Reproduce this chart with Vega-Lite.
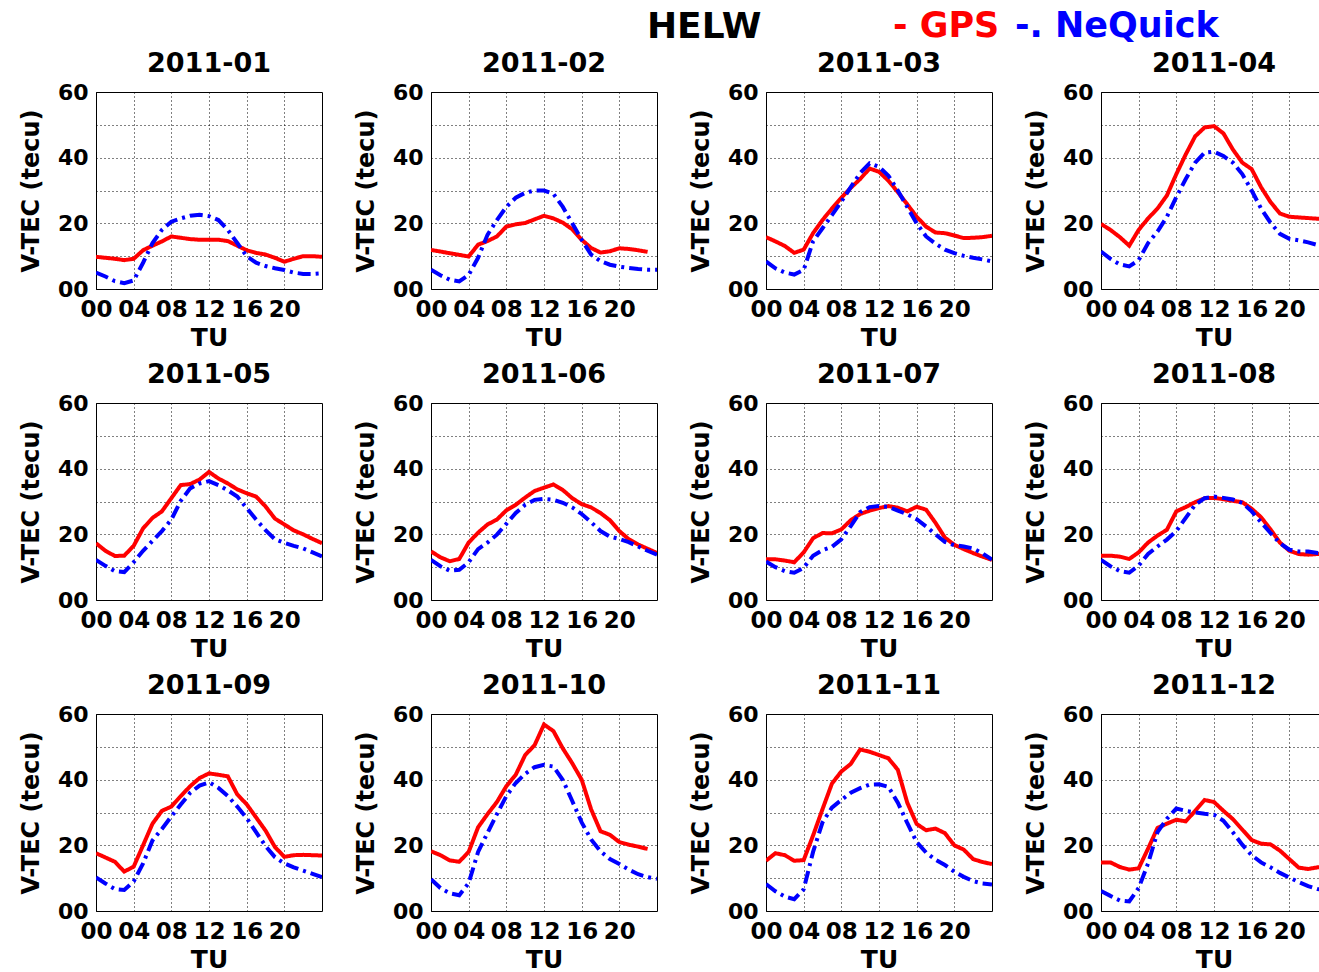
{
"$schema": "https://vega.github.io/schema/vega-lite/v6.json",
"background": "white",
"padding": {"left": 18, "top": 8, "right": 0, "bottom": 0},
"title": {"text": "HELW", "fontSize": 36, "font": "DejaVu Sans", "fontWeight": "bold", "color": "black", "anchor": "middle", "dx": 31, "dy": 42, "offset": 4},
"data": {"values": [
{"m":"2011-01","h":0,"GPS":9.8,"NeQuick":5},{"m":"2011-01","h":1,"GPS":9.5,"NeQuick":3.8},{"m":"2011-01","h":2,"GPS":9.2,"NeQuick":2.4},{"m":"2011-01","h":3,"GPS":8.8,"NeQuick":1.8},{"m":"2011-01","h":4,"GPS":9.2,"NeQuick":2.6},{"m":"2011-01","h":5,"GPS":11.8,"NeQuick":8},{"m":"2011-01","h":6,"GPS":13.2,"NeQuick":14},{"m":"2011-01","h":7,"GPS":14.5,"NeQuick":18},{"m":"2011-01","h":8,"GPS":16,"NeQuick":20.5},{"m":"2011-01","h":9,"GPS":15.6,"NeQuick":21.5},{"m":"2011-01","h":10,"GPS":15.2,"NeQuick":22.3},{"m":"2011-01","h":11,"GPS":15,"NeQuick":22.6},{"m":"2011-01","h":12,"GPS":15,"NeQuick":22.2},{"m":"2011-01","h":13,"GPS":15,"NeQuick":21},{"m":"2011-01","h":14,"GPS":14.6,"NeQuick":18},{"m":"2011-01","h":15,"GPS":13.2,"NeQuick":14},{"m":"2011-01","h":16,"GPS":11.8,"NeQuick":10},{"m":"2011-01","h":17,"GPS":11,"NeQuick":8},{"m":"2011-01","h":18,"GPS":10.5,"NeQuick":7},{"m":"2011-01","h":19,"GPS":9.5,"NeQuick":6.3},{"m":"2011-01","h":20,"GPS":8.3,"NeQuick":5.8},{"m":"2011-01","h":21,"GPS":9.2,"NeQuick":5},{"m":"2011-01","h":22,"GPS":10,"NeQuick":4.6},{"m":"2011-01","h":23,"GPS":10,"NeQuick":4.6},{"m":"2011-01","h":24,"GPS":9.8,"NeQuick":4.8},
{"m":"2011-02","h":0,"GPS":11.9,"NeQuick":5.9},{"m":"2011-02","h":1,"GPS":11.4,"NeQuick":4.2},{"m":"2011-02","h":2,"GPS":10.9,"NeQuick":2.8},{"m":"2011-02","h":3,"GPS":10.4,"NeQuick":2.3},{"m":"2011-02","h":4,"GPS":9.9,"NeQuick":4.3},{"m":"2011-02","h":5,"GPS":13.5,"NeQuick":9.5},{"m":"2011-02","h":6,"GPS":14.6,"NeQuick":16.5},{"m":"2011-02","h":7,"GPS":16,"NeQuick":21},{"m":"2011-02","h":8,"GPS":19,"NeQuick":25},{"m":"2011-02","h":9,"GPS":19.7,"NeQuick":27.8},{"m":"2011-02","h":10,"GPS":20.1,"NeQuick":29.3},{"m":"2011-02","h":11,"GPS":21.2,"NeQuick":30},{"m":"2011-02","h":12,"GPS":22.3,"NeQuick":30},{"m":"2011-02","h":13,"GPS":21.5,"NeQuick":29},{"m":"2011-02","h":14,"GPS":20.2,"NeQuick":25},{"m":"2011-02","h":15,"GPS":18.2,"NeQuick":20},{"m":"2011-02","h":16,"GPS":15,"NeQuick":15},{"m":"2011-02","h":17,"GPS":12.5,"NeQuick":10.5},{"m":"2011-02","h":18,"GPS":11.1,"NeQuick":8.5},{"m":"2011-02","h":19,"GPS":11.5,"NeQuick":7.4},{"m":"2011-02","h":20,"GPS":12.4,"NeQuick":6.8},{"m":"2011-02","h":21,"GPS":12.2,"NeQuick":6.4},{"m":"2011-02","h":22,"GPS":11.8,"NeQuick":6.1},{"m":"2011-02","h":23,"GPS":11.3,"NeQuick":5.9},{"m":"2011-02","h":24,"GPS":null,"NeQuick":5.9},
{"m":"2011-03","h":0,"GPS":15.8,"NeQuick":8.4},{"m":"2011-03","h":1,"GPS":14.5,"NeQuick":6.3},{"m":"2011-03","h":2,"GPS":13.1,"NeQuick":5},{"m":"2011-03","h":3,"GPS":11,"NeQuick":4.4},{"m":"2011-03","h":4,"GPS":12,"NeQuick":5.8},{"m":"2011-03","h":5,"GPS":17,"NeQuick":14.5},{"m":"2011-03","h":6,"GPS":21,"NeQuick":18.5},{"m":"2011-03","h":7,"GPS":24.5,"NeQuick":22.5},{"m":"2011-03","h":8,"GPS":27.8,"NeQuick":26.6},{"m":"2011-03","h":9,"GPS":30.8,"NeQuick":31},{"m":"2011-03","h":10,"GPS":33.5,"NeQuick":35.3},{"m":"2011-03","h":11,"GPS":36.7,"NeQuick":38.3},{"m":"2011-03","h":12,"GPS":35.7,"NeQuick":37.2},{"m":"2011-03","h":13,"GPS":33,"NeQuick":34.5},{"m":"2011-03","h":14,"GPS":29.5,"NeQuick":30},{"m":"2011-03","h":15,"GPS":25.8,"NeQuick":25},{"m":"2011-03","h":16,"GPS":22,"NeQuick":20},{"m":"2011-03","h":17,"GPS":19,"NeQuick":16},{"m":"2011-03","h":18,"GPS":17.2,"NeQuick":13.8},{"m":"2011-03","h":19,"GPS":17,"NeQuick":12},{"m":"2011-03","h":20,"GPS":16.3,"NeQuick":10.9},{"m":"2011-03","h":21,"GPS":15.5,"NeQuick":10.1},{"m":"2011-03","h":22,"GPS":15.6,"NeQuick":9.5},{"m":"2011-03","h":23,"GPS":15.8,"NeQuick":9},{"m":"2011-03","h":24,"GPS":16.2,"NeQuick":8.4},
{"m":"2011-04","h":0,"GPS":19.8,"NeQuick":11.4},{"m":"2011-04","h":1,"GPS":18,"NeQuick":9.2},{"m":"2011-04","h":2,"GPS":15.8,"NeQuick":7.5},{"m":"2011-04","h":3,"GPS":13.2,"NeQuick":6.9},{"m":"2011-04","h":4,"GPS":18,"NeQuick":8.8},{"m":"2011-04","h":5,"GPS":21.5,"NeQuick":14},{"m":"2011-04","h":6,"GPS":24.5,"NeQuick":17.5},{"m":"2011-04","h":7,"GPS":28.5,"NeQuick":22},{"m":"2011-04","h":8,"GPS":35,"NeQuick":28},{"m":"2011-04","h":9,"GPS":41,"NeQuick":33.5},{"m":"2011-04","h":10,"GPS":46.5,"NeQuick":38.5},{"m":"2011-04","h":11,"GPS":49.2,"NeQuick":41.5},{"m":"2011-04","h":12,"GPS":49.6,"NeQuick":41.8},{"m":"2011-04","h":13,"GPS":47.4,"NeQuick":40.5},{"m":"2011-04","h":14,"GPS":42.5,"NeQuick":38.5},{"m":"2011-04","h":15,"GPS":38.5,"NeQuick":35},{"m":"2011-04","h":16,"GPS":36.5,"NeQuick":30},{"m":"2011-04","h":17,"GPS":31,"NeQuick":24.5},{"m":"2011-04","h":18,"GPS":26.5,"NeQuick":20.2},{"m":"2011-04","h":19,"GPS":23,"NeQuick":16.8},{"m":"2011-04","h":20,"GPS":22,"NeQuick":15.3},{"m":"2011-04","h":21,"GPS":21.8,"NeQuick":14.8},{"m":"2011-04","h":22,"GPS":21.6,"NeQuick":14.2},{"m":"2011-04","h":23,"GPS":21.4,"NeQuick":13.4},{"m":"2011-04","h":24,"GPS":21.3,"NeQuick":12.8},
{"m":"2011-05","h":0,"GPS":17.3,"NeQuick":12.2},{"m":"2011-05","h":1,"GPS":15,"NeQuick":10.4},{"m":"2011-05","h":2,"GPS":13.4,"NeQuick":8.8},{"m":"2011-05","h":3,"GPS":13.5,"NeQuick":8.5},{"m":"2011-05","h":4,"GPS":16.5,"NeQuick":11.5},{"m":"2011-05","h":5,"GPS":21.8,"NeQuick":15},{"m":"2011-05","h":6,"GPS":25,"NeQuick":18},{"m":"2011-05","h":7,"GPS":27,"NeQuick":21},{"m":"2011-05","h":8,"GPS":31,"NeQuick":24.5},{"m":"2011-05","h":9,"GPS":35,"NeQuick":30.2},{"m":"2011-05","h":10,"GPS":35.3,"NeQuick":34},{"m":"2011-05","h":11,"GPS":36.7,"NeQuick":35.5},{"m":"2011-05","h":12,"GPS":39,"NeQuick":36.2},{"m":"2011-05","h":13,"GPS":37,"NeQuick":35},{"m":"2011-05","h":14,"GPS":35.5,"NeQuick":33.4},{"m":"2011-05","h":15,"GPS":33.7,"NeQuick":31.5},{"m":"2011-05","h":16,"GPS":32.5,"NeQuick":28},{"m":"2011-05","h":17,"GPS":31.5,"NeQuick":24.5},{"m":"2011-05","h":18,"GPS":28.5,"NeQuick":21.3},{"m":"2011-05","h":19,"GPS":24.8,"NeQuick":18.5},{"m":"2011-05","h":20,"GPS":23,"NeQuick":17.4},{"m":"2011-05","h":21,"GPS":21.2,"NeQuick":16.5},{"m":"2011-05","h":22,"GPS":20,"NeQuick":15.7},{"m":"2011-05","h":23,"GPS":18.6,"NeQuick":14.5},{"m":"2011-05","h":24,"GPS":17.3,"NeQuick":13.3},
{"m":"2011-06","h":0,"GPS":14.8,"NeQuick":12.2},{"m":"2011-06","h":1,"GPS":13,"NeQuick":10.3},{"m":"2011-06","h":2,"GPS":11.8,"NeQuick":8.9},{"m":"2011-06","h":3,"GPS":12.5,"NeQuick":9.2},{"m":"2011-06","h":4,"GPS":17.5,"NeQuick":11.5},{"m":"2011-06","h":5,"GPS":20.5,"NeQuick":15.5},{"m":"2011-06","h":6,"GPS":23,"NeQuick":17.5},{"m":"2011-06","h":7,"GPS":24.5,"NeQuick":19.9},{"m":"2011-06","h":8,"GPS":27.3,"NeQuick":23.2},{"m":"2011-06","h":9,"GPS":29,"NeQuick":26.5},{"m":"2011-06","h":10,"GPS":31.2,"NeQuick":29},{"m":"2011-06","h":11,"GPS":33.2,"NeQuick":30.5},{"m":"2011-06","h":12,"GPS":34.2,"NeQuick":30.8},{"m":"2011-06","h":13,"GPS":35.2,"NeQuick":30.5},{"m":"2011-06","h":14,"GPS":33.5,"NeQuick":29.6},{"m":"2011-06","h":15,"GPS":31,"NeQuick":28.2},{"m":"2011-06","h":16,"GPS":29.2,"NeQuick":26.2},{"m":"2011-06","h":17,"GPS":28.2,"NeQuick":23.7},{"m":"2011-06","h":18,"GPS":26.5,"NeQuick":21},{"m":"2011-06","h":19,"GPS":24.3,"NeQuick":19.3},{"m":"2011-06","h":20,"GPS":21,"NeQuick":18.6},{"m":"2011-06","h":21,"GPS":18.5,"NeQuick":17.6},{"m":"2011-06","h":22,"GPS":16.9,"NeQuick":16.3},{"m":"2011-06","h":23,"GPS":15.6,"NeQuick":15},{"m":"2011-06","h":24,"GPS":14.3,"NeQuick":13.8},
{"m":"2011-07","h":0,"GPS":12.4,"NeQuick":11.7},{"m":"2011-07","h":1,"GPS":12.4,"NeQuick":10},{"m":"2011-07","h":2,"GPS":12,"NeQuick":8.8},{"m":"2011-07","h":3,"GPS":11.5,"NeQuick":8.3},{"m":"2011-07","h":4,"GPS":14.5,"NeQuick":9.8},{"m":"2011-07","h":5,"GPS":18.8,"NeQuick":13.5},{"m":"2011-07","h":6,"GPS":20.4,"NeQuick":15.2},{"m":"2011-07","h":7,"GPS":20.3,"NeQuick":16.2},{"m":"2011-07","h":8,"GPS":21.5,"NeQuick":18.5},{"m":"2011-07","h":9,"GPS":24.3,"NeQuick":22.5},{"m":"2011-07","h":10,"GPS":26.2,"NeQuick":26.8},{"m":"2011-07","h":11,"GPS":27.2,"NeQuick":28.3},{"m":"2011-07","h":12,"GPS":28,"NeQuick":28.6},{"m":"2011-07","h":13,"GPS":28.6,"NeQuick":28.4},{"m":"2011-07","h":14,"GPS":28.1,"NeQuick":27.2},{"m":"2011-07","h":15,"GPS":27,"NeQuick":26.1},{"m":"2011-07","h":16,"GPS":28.4,"NeQuick":24.6},{"m":"2011-07","h":17,"GPS":27.5,"NeQuick":22.4},{"m":"2011-07","h":18,"GPS":23.5,"NeQuick":20},{"m":"2011-07","h":19,"GPS":19,"NeQuick":17.7},{"m":"2011-07","h":20,"GPS":16.8,"NeQuick":16.7},{"m":"2011-07","h":21,"GPS":15.5,"NeQuick":16.3},{"m":"2011-07","h":22,"GPS":14.3,"NeQuick":15.7},{"m":"2011-07","h":23,"GPS":13.2,"NeQuick":14.2},{"m":"2011-07","h":24,"GPS":12.2,"NeQuick":12.3},
{"m":"2011-08","h":0,"GPS":13.5,"NeQuick":12.2},{"m":"2011-08","h":1,"GPS":13.5,"NeQuick":10.3},{"m":"2011-08","h":2,"GPS":13.2,"NeQuick":8.8},{"m":"2011-08","h":3,"GPS":12.5,"NeQuick":8.3},{"m":"2011-08","h":4,"GPS":14.5,"NeQuick":10.5},{"m":"2011-08","h":5,"GPS":17.5,"NeQuick":14},{"m":"2011-08","h":6,"GPS":19.6,"NeQuick":16.3},{"m":"2011-08","h":7,"GPS":21.4,"NeQuick":18.4},{"m":"2011-08","h":8,"GPS":27,"NeQuick":21},{"m":"2011-08","h":9,"GPS":28.3,"NeQuick":25},{"m":"2011-08","h":10,"GPS":29.8,"NeQuick":29},{"m":"2011-08","h":11,"GPS":31,"NeQuick":31},{"m":"2011-08","h":12,"GPS":31.1,"NeQuick":31.5},{"m":"2011-08","h":13,"GPS":30.7,"NeQuick":31.1},{"m":"2011-08","h":14,"GPS":30.2,"NeQuick":30.6},{"m":"2011-08","h":15,"GPS":29.8,"NeQuick":29.6},{"m":"2011-08","h":16,"GPS":27.8,"NeQuick":27},{"m":"2011-08","h":17,"GPS":25.2,"NeQuick":23.7},{"m":"2011-08","h":18,"GPS":21.5,"NeQuick":20.4},{"m":"2011-08","h":19,"GPS":17.5,"NeQuick":17.3},{"m":"2011-08","h":20,"GPS":15,"NeQuick":15.3},{"m":"2011-08","h":21,"GPS":14,"NeQuick":14.8},{"m":"2011-08","h":22,"GPS":13.8,"NeQuick":14.8},{"m":"2011-08","h":23,"GPS":14,"NeQuick":14.3},{"m":"2011-08","h":24,"GPS":14,"NeQuick":14},
{"m":"2011-09","h":0,"GPS":17.6,"NeQuick":10.2},{"m":"2011-09","h":1,"GPS":16.3,"NeQuick":8.4},{"m":"2011-09","h":2,"GPS":15,"NeQuick":6.7},{"m":"2011-09","h":3,"GPS":12,"NeQuick":6.4},{"m":"2011-09","h":4,"GPS":13.5,"NeQuick":9},{"m":"2011-09","h":5,"GPS":20,"NeQuick":14.5},{"m":"2011-09","h":6,"GPS":26.6,"NeQuick":21.5},{"m":"2011-09","h":7,"GPS":30.5,"NeQuick":25},{"m":"2011-09","h":8,"GPS":31.8,"NeQuick":28.8},{"m":"2011-09","h":9,"GPS":35,"NeQuick":32.4},{"m":"2011-09","h":10,"GPS":38,"NeQuick":36},{"m":"2011-09","h":11,"GPS":40.5,"NeQuick":38.2},{"m":"2011-09","h":12,"GPS":41.9,"NeQuick":39.2},{"m":"2011-09","h":13,"GPS":41.5,"NeQuick":37.5},{"m":"2011-09","h":14,"GPS":41,"NeQuick":35},{"m":"2011-09","h":15,"GPS":35.5,"NeQuick":31.8},{"m":"2011-09","h":16,"GPS":32.5,"NeQuick":28.3},{"m":"2011-09","h":17,"GPS":28.5,"NeQuick":24},{"m":"2011-09","h":18,"GPS":24.5,"NeQuick":19.8},{"m":"2011-09","h":19,"GPS":19.5,"NeQuick":16.4},{"m":"2011-09","h":20,"GPS":16.5,"NeQuick":14.5},{"m":"2011-09","h":21,"GPS":17,"NeQuick":13.3},{"m":"2011-09","h":22,"GPS":17.1,"NeQuick":12.3},{"m":"2011-09","h":23,"GPS":17,"NeQuick":11.3},{"m":"2011-09","h":24,"GPS":16.9,"NeQuick":10.3},
{"m":"2011-10","h":0,"GPS":18.2,"NeQuick":9.7},{"m":"2011-10","h":1,"GPS":17,"NeQuick":7},{"m":"2011-10","h":2,"GPS":15.4,"NeQuick":5.4},{"m":"2011-10","h":3,"GPS":15,"NeQuick":4.8},{"m":"2011-10","h":4,"GPS":18,"NeQuick":8.5},{"m":"2011-10","h":5,"GPS":25.5,"NeQuick":18},{"m":"2011-10","h":6,"GPS":29.5,"NeQuick":23.8},{"m":"2011-10","h":7,"GPS":33.2,"NeQuick":29.5},{"m":"2011-10","h":8,"GPS":38,"NeQuick":35},{"m":"2011-10","h":9,"GPS":41.5,"NeQuick":39},{"m":"2011-10","h":10,"GPS":47.5,"NeQuick":41.8},{"m":"2011-10","h":11,"GPS":50.5,"NeQuick":43.8},{"m":"2011-10","h":12,"GPS":56.8,"NeQuick":44.5},{"m":"2011-10","h":13,"GPS":54.8,"NeQuick":44},{"m":"2011-10","h":14,"GPS":49.5,"NeQuick":39.9},{"m":"2011-10","h":15,"GPS":45,"NeQuick":33.5},{"m":"2011-10","h":16,"GPS":40,"NeQuick":27},{"m":"2011-10","h":17,"GPS":31,"NeQuick":21.8},{"m":"2011-10","h":18,"GPS":24.3,"NeQuick":18.2},{"m":"2011-10","h":19,"GPS":23.2,"NeQuick":15.8},{"m":"2011-10","h":20,"GPS":21,"NeQuick":14.3},{"m":"2011-10","h":21,"GPS":20.2,"NeQuick":12.6},{"m":"2011-10","h":22,"GPS":19.6,"NeQuick":11.2},{"m":"2011-10","h":23,"GPS":18.9,"NeQuick":10.3},{"m":"2011-10","h":24,"GPS":null,"NeQuick":9.8},
{"m":"2011-11","h":0,"GPS":15.3,"NeQuick":8.2},{"m":"2011-11","h":1,"GPS":17.6,"NeQuick":6},{"m":"2011-11","h":2,"GPS":17,"NeQuick":4.4},{"m":"2011-11","h":3,"GPS":15.3,"NeQuick":3.6},{"m":"2011-11","h":4,"GPS":15.5,"NeQuick":6.6},{"m":"2011-11","h":5,"GPS":23,"NeQuick":18},{"m":"2011-11","h":6,"GPS":31,"NeQuick":27},{"m":"2011-11","h":7,"GPS":38.8,"NeQuick":31.5},{"m":"2011-11","h":8,"GPS":42.5,"NeQuick":33.8},{"m":"2011-11","h":9,"GPS":44.8,"NeQuick":36},{"m":"2011-11","h":10,"GPS":49.2,"NeQuick":37.4},{"m":"2011-11","h":11,"GPS":48.5,"NeQuick":38.5},{"m":"2011-11","h":12,"GPS":47.5,"NeQuick":38.6},{"m":"2011-11","h":13,"GPS":46.5,"NeQuick":37.8},{"m":"2011-11","h":14,"GPS":43,"NeQuick":33},{"m":"2011-11","h":15,"GPS":33,"NeQuick":26.8},{"m":"2011-11","h":16,"GPS":26.5,"NeQuick":21},{"m":"2011-11","h":17,"GPS":24.6,"NeQuick":17.8},{"m":"2011-11","h":18,"GPS":25.1,"NeQuick":15.6},{"m":"2011-11","h":19,"GPS":23.7,"NeQuick":14},{"m":"2011-11","h":20,"GPS":20,"NeQuick":12},{"m":"2011-11","h":21,"GPS":18.7,"NeQuick":10.4},{"m":"2011-11","h":22,"GPS":15.8,"NeQuick":9.1},{"m":"2011-11","h":23,"GPS":14.9,"NeQuick":8.4},{"m":"2011-11","h":24,"GPS":14.3,"NeQuick":8.1},
{"m":"2011-12","h":0,"GPS":14.8,"NeQuick":6.1},{"m":"2011-12","h":1,"GPS":14.8,"NeQuick":4.6},{"m":"2011-12","h":2,"GPS":13.4,"NeQuick":3.2},{"m":"2011-12","h":3,"GPS":12.6,"NeQuick":2.9},{"m":"2011-12","h":4,"GPS":13,"NeQuick":7},{"m":"2011-12","h":5,"GPS":19,"NeQuick":14.5},{"m":"2011-12","h":6,"GPS":25.3,"NeQuick":24},{"m":"2011-12","h":7,"GPS":26.6,"NeQuick":28.1},{"m":"2011-12","h":8,"GPS":27.8,"NeQuick":31.2},{"m":"2011-12","h":9,"GPS":27.3,"NeQuick":30.5},{"m":"2011-12","h":10,"GPS":30.5,"NeQuick":30},{"m":"2011-12","h":11,"GPS":33.8,"NeQuick":29.6},{"m":"2011-12","h":12,"GPS":33.2,"NeQuick":29.3},{"m":"2011-12","h":13,"GPS":30.5,"NeQuick":27.5},{"m":"2011-12","h":14,"GPS":28,"NeQuick":24},{"m":"2011-12","h":15,"GPS":24.8,"NeQuick":20.2},{"m":"2011-12","h":16,"GPS":21.6,"NeQuick":17},{"m":"2011-12","h":17,"GPS":20.5,"NeQuick":14.8},{"m":"2011-12","h":18,"GPS":20.3,"NeQuick":13.3},{"m":"2011-12","h":19,"GPS":18.4,"NeQuick":11.6},{"m":"2011-12","h":20,"GPS":15.8,"NeQuick":10.2},{"m":"2011-12","h":21,"GPS":13.2,"NeQuick":8.8},{"m":"2011-12","h":22,"GPS":12.8,"NeQuick":7.6},{"m":"2011-12","h":23,"GPS":13.3,"NeQuick":6.7},{"m":"2011-12","h":24,"GPS":13.5,"NeQuick":6.2}
]},
"transform": [{"fold": ["GPS", "NeQuick"], "as": ["s", "v"]}],
"columns": 4,
"spacing": {"row": 114, "column": 109},
"bounds": "flush",
"concat": [
{"title": "2011-01", "width": 226, "height": 197, "transform": [{"filter": "datum.m == '2011-01'"}], "mark": {"type": "line", "clip": true, "strokeWidth": 4}, "encoding": {"x": {"field": "h", "type": "quantitative", "scale": {"domain": [0, 24], "nice": false}, "axis": {"title": "TU", "values": [0, 4, 8, 12, 16, 20]}}, "y": {"field": "v", "type": "quantitative", "scale": {"domain": [0, 60], "nice": false}, "axis": {"title": "V-TEC (tecu)", "values": [0, 10, 20, 30, 40, 50, 60]}}, "color": {"field": "s", "type": "nominal", "scale": {"domain": ["GPS", "NeQuick"], "range": ["#ff0000", "#0000ff"]}, "legend": {"title": null, "orient": "none", "legendX": 782, "legendY": -84, "direction": "horizontal", "symbolType": "circle", "symbolSize": 0, "symbolOpacity": 0, "symbolStrokeWidth": 0, "labelOffset": -20, "padding": 0, "columnPadding": 0, "labelFont": "DejaVu Sans", "labelFontSize": 35, "labelFontWeight": "bold", "labelLimit": 400, "labelExpr": "datum.value == 'GPS' ? '- GPS' : '-. NeQuick'", "encode": {"labels": {"update": {"fill": {"signal": "datum.value == 'GPS' ? '#ff0000' : '#0000ff'"}}}}}}, "strokeDash": {"field": "s", "type": "nominal", "scale": {"domain": ["GPS", "NeQuick"], "range": [[1, 0], [13, 5, 3, 5]]}, "legend": null}}},
{"title": "2011-02", "width": 226, "height": 197, "transform": [{"filter": "datum.m == '2011-02'"}], "mark": {"type": "line", "clip": true, "strokeWidth": 4}, "encoding": {"x": {"field": "h", "type": "quantitative", "scale": {"domain": [0, 24], "nice": false}, "axis": {"title": "TU", "values": [0, 4, 8, 12, 16, 20]}}, "y": {"field": "v", "type": "quantitative", "scale": {"domain": [0, 60], "nice": false}, "axis": {"title": "V-TEC (tecu)", "values": [0, 10, 20, 30, 40, 50, 60]}}, "color": {"field": "s", "type": "nominal", "scale": {"domain": ["GPS", "NeQuick"], "range": ["#ff0000", "#0000ff"]}, "legend": {"title": null, "orient": "none", "legendX": 782, "legendY": -84, "direction": "horizontal", "symbolType": "circle", "symbolSize": 0, "symbolOpacity": 0, "symbolStrokeWidth": 0, "labelOffset": -20, "padding": 0, "columnPadding": 0, "labelFont": "DejaVu Sans", "labelFontSize": 35, "labelFontWeight": "bold", "labelLimit": 400, "labelExpr": "datum.value == 'GPS' ? '- GPS' : '-. NeQuick'", "encode": {"labels": {"update": {"fill": {"signal": "datum.value == 'GPS' ? '#ff0000' : '#0000ff'"}}}}}}, "strokeDash": {"field": "s", "type": "nominal", "scale": {"domain": ["GPS", "NeQuick"], "range": [[1, 0], [13, 5, 3, 5]]}, "legend": null}}},
{"title": "2011-03", "width": 226, "height": 197, "transform": [{"filter": "datum.m == '2011-03'"}], "mark": {"type": "line", "clip": true, "strokeWidth": 4}, "encoding": {"x": {"field": "h", "type": "quantitative", "scale": {"domain": [0, 24], "nice": false}, "axis": {"title": "TU", "values": [0, 4, 8, 12, 16, 20]}}, "y": {"field": "v", "type": "quantitative", "scale": {"domain": [0, 60], "nice": false}, "axis": {"title": "V-TEC (tecu)", "values": [0, 10, 20, 30, 40, 50, 60]}}, "color": {"field": "s", "type": "nominal", "scale": {"domain": ["GPS", "NeQuick"], "range": ["#ff0000", "#0000ff"]}, "legend": {"title": null, "orient": "none", "legendX": 782, "legendY": -84, "direction": "horizontal", "symbolType": "circle", "symbolSize": 0, "symbolOpacity": 0, "symbolStrokeWidth": 0, "labelOffset": -20, "padding": 0, "columnPadding": 0, "labelFont": "DejaVu Sans", "labelFontSize": 35, "labelFontWeight": "bold", "labelLimit": 400, "labelExpr": "datum.value == 'GPS' ? '- GPS' : '-. NeQuick'", "encode": {"labels": {"update": {"fill": {"signal": "datum.value == 'GPS' ? '#ff0000' : '#0000ff'"}}}}}}, "strokeDash": {"field": "s", "type": "nominal", "scale": {"domain": ["GPS", "NeQuick"], "range": [[1, 0], [13, 5, 3, 5]]}, "legend": null}}},
{"title": "2011-04", "width": 226, "height": 197, "transform": [{"filter": "datum.m == '2011-04'"}], "mark": {"type": "line", "clip": true, "strokeWidth": 4}, "encoding": {"x": {"field": "h", "type": "quantitative", "scale": {"domain": [0, 24], "nice": false}, "axis": {"title": "TU", "values": [0, 4, 8, 12, 16, 20]}}, "y": {"field": "v", "type": "quantitative", "scale": {"domain": [0, 60], "nice": false}, "axis": {"title": "V-TEC (tecu)", "values": [0, 10, 20, 30, 40, 50, 60]}}, "color": {"field": "s", "type": "nominal", "scale": {"domain": ["GPS", "NeQuick"], "range": ["#ff0000", "#0000ff"]}, "legend": {"title": null, "orient": "none", "legendX": 782, "legendY": -84, "direction": "horizontal", "symbolType": "circle", "symbolSize": 0, "symbolOpacity": 0, "symbolStrokeWidth": 0, "labelOffset": -20, "padding": 0, "columnPadding": 0, "labelFont": "DejaVu Sans", "labelFontSize": 35, "labelFontWeight": "bold", "labelLimit": 400, "labelExpr": "datum.value == 'GPS' ? '- GPS' : '-. NeQuick'", "encode": {"labels": {"update": {"fill": {"signal": "datum.value == 'GPS' ? '#ff0000' : '#0000ff'"}}}}}}, "strokeDash": {"field": "s", "type": "nominal", "scale": {"domain": ["GPS", "NeQuick"], "range": [[1, 0], [13, 5, 3, 5]]}, "legend": null}}},
{"title": "2011-05", "width": 226, "height": 197, "transform": [{"filter": "datum.m == '2011-05'"}], "mark": {"type": "line", "clip": true, "strokeWidth": 4}, "encoding": {"x": {"field": "h", "type": "quantitative", "scale": {"domain": [0, 24], "nice": false}, "axis": {"title": "TU", "values": [0, 4, 8, 12, 16, 20]}}, "y": {"field": "v", "type": "quantitative", "scale": {"domain": [0, 60], "nice": false}, "axis": {"title": "V-TEC (tecu)", "values": [0, 10, 20, 30, 40, 50, 60]}}, "color": {"field": "s", "type": "nominal", "scale": {"domain": ["GPS", "NeQuick"], "range": ["#ff0000", "#0000ff"]}, "legend": {"title": null, "orient": "none", "legendX": 782, "legendY": -84, "direction": "horizontal", "symbolType": "circle", "symbolSize": 0, "symbolOpacity": 0, "symbolStrokeWidth": 0, "labelOffset": -20, "padding": 0, "columnPadding": 0, "labelFont": "DejaVu Sans", "labelFontSize": 35, "labelFontWeight": "bold", "labelLimit": 400, "labelExpr": "datum.value == 'GPS' ? '- GPS' : '-. NeQuick'", "encode": {"labels": {"update": {"fill": {"signal": "datum.value == 'GPS' ? '#ff0000' : '#0000ff'"}}}}}}, "strokeDash": {"field": "s", "type": "nominal", "scale": {"domain": ["GPS", "NeQuick"], "range": [[1, 0], [13, 5, 3, 5]]}, "legend": null}}},
{"title": "2011-06", "width": 226, "height": 197, "transform": [{"filter": "datum.m == '2011-06'"}], "mark": {"type": "line", "clip": true, "strokeWidth": 4}, "encoding": {"x": {"field": "h", "type": "quantitative", "scale": {"domain": [0, 24], "nice": false}, "axis": {"title": "TU", "values": [0, 4, 8, 12, 16, 20]}}, "y": {"field": "v", "type": "quantitative", "scale": {"domain": [0, 60], "nice": false}, "axis": {"title": "V-TEC (tecu)", "values": [0, 10, 20, 30, 40, 50, 60]}}, "color": {"field": "s", "type": "nominal", "scale": {"domain": ["GPS", "NeQuick"], "range": ["#ff0000", "#0000ff"]}, "legend": {"title": null, "orient": "none", "legendX": 782, "legendY": -84, "direction": "horizontal", "symbolType": "circle", "symbolSize": 0, "symbolOpacity": 0, "symbolStrokeWidth": 0, "labelOffset": -20, "padding": 0, "columnPadding": 0, "labelFont": "DejaVu Sans", "labelFontSize": 35, "labelFontWeight": "bold", "labelLimit": 400, "labelExpr": "datum.value == 'GPS' ? '- GPS' : '-. NeQuick'", "encode": {"labels": {"update": {"fill": {"signal": "datum.value == 'GPS' ? '#ff0000' : '#0000ff'"}}}}}}, "strokeDash": {"field": "s", "type": "nominal", "scale": {"domain": ["GPS", "NeQuick"], "range": [[1, 0], [13, 5, 3, 5]]}, "legend": null}}},
{"title": "2011-07", "width": 226, "height": 197, "transform": [{"filter": "datum.m == '2011-07'"}], "mark": {"type": "line", "clip": true, "strokeWidth": 4}, "encoding": {"x": {"field": "h", "type": "quantitative", "scale": {"domain": [0, 24], "nice": false}, "axis": {"title": "TU", "values": [0, 4, 8, 12, 16, 20]}}, "y": {"field": "v", "type": "quantitative", "scale": {"domain": [0, 60], "nice": false}, "axis": {"title": "V-TEC (tecu)", "values": [0, 10, 20, 30, 40, 50, 60]}}, "color": {"field": "s", "type": "nominal", "scale": {"domain": ["GPS", "NeQuick"], "range": ["#ff0000", "#0000ff"]}, "legend": {"title": null, "orient": "none", "legendX": 782, "legendY": -84, "direction": "horizontal", "symbolType": "circle", "symbolSize": 0, "symbolOpacity": 0, "symbolStrokeWidth": 0, "labelOffset": -20, "padding": 0, "columnPadding": 0, "labelFont": "DejaVu Sans", "labelFontSize": 35, "labelFontWeight": "bold", "labelLimit": 400, "labelExpr": "datum.value == 'GPS' ? '- GPS' : '-. NeQuick'", "encode": {"labels": {"update": {"fill": {"signal": "datum.value == 'GPS' ? '#ff0000' : '#0000ff'"}}}}}}, "strokeDash": {"field": "s", "type": "nominal", "scale": {"domain": ["GPS", "NeQuick"], "range": [[1, 0], [13, 5, 3, 5]]}, "legend": null}}},
{"title": "2011-08", "width": 226, "height": 197, "transform": [{"filter": "datum.m == '2011-08'"}], "mark": {"type": "line", "clip": true, "strokeWidth": 4}, "encoding": {"x": {"field": "h", "type": "quantitative", "scale": {"domain": [0, 24], "nice": false}, "axis": {"title": "TU", "values": [0, 4, 8, 12, 16, 20]}}, "y": {"field": "v", "type": "quantitative", "scale": {"domain": [0, 60], "nice": false}, "axis": {"title": "V-TEC (tecu)", "values": [0, 10, 20, 30, 40, 50, 60]}}, "color": {"field": "s", "type": "nominal", "scale": {"domain": ["GPS", "NeQuick"], "range": ["#ff0000", "#0000ff"]}, "legend": {"title": null, "orient": "none", "legendX": 782, "legendY": -84, "direction": "horizontal", "symbolType": "circle", "symbolSize": 0, "symbolOpacity": 0, "symbolStrokeWidth": 0, "labelOffset": -20, "padding": 0, "columnPadding": 0, "labelFont": "DejaVu Sans", "labelFontSize": 35, "labelFontWeight": "bold", "labelLimit": 400, "labelExpr": "datum.value == 'GPS' ? '- GPS' : '-. NeQuick'", "encode": {"labels": {"update": {"fill": {"signal": "datum.value == 'GPS' ? '#ff0000' : '#0000ff'"}}}}}}, "strokeDash": {"field": "s", "type": "nominal", "scale": {"domain": ["GPS", "NeQuick"], "range": [[1, 0], [13, 5, 3, 5]]}, "legend": null}}},
{"title": "2011-09", "width": 226, "height": 197, "transform": [{"filter": "datum.m == '2011-09'"}], "mark": {"type": "line", "clip": true, "strokeWidth": 4}, "encoding": {"x": {"field": "h", "type": "quantitative", "scale": {"domain": [0, 24], "nice": false}, "axis": {"title": "TU", "values": [0, 4, 8, 12, 16, 20]}}, "y": {"field": "v", "type": "quantitative", "scale": {"domain": [0, 60], "nice": false}, "axis": {"title": "V-TEC (tecu)", "values": [0, 10, 20, 30, 40, 50, 60]}}, "color": {"field": "s", "type": "nominal", "scale": {"domain": ["GPS", "NeQuick"], "range": ["#ff0000", "#0000ff"]}, "legend": {"title": null, "orient": "none", "legendX": 782, "legendY": -84, "direction": "horizontal", "symbolType": "circle", "symbolSize": 0, "symbolOpacity": 0, "symbolStrokeWidth": 0, "labelOffset": -20, "padding": 0, "columnPadding": 0, "labelFont": "DejaVu Sans", "labelFontSize": 35, "labelFontWeight": "bold", "labelLimit": 400, "labelExpr": "datum.value == 'GPS' ? '- GPS' : '-. NeQuick'", "encode": {"labels": {"update": {"fill": {"signal": "datum.value == 'GPS' ? '#ff0000' : '#0000ff'"}}}}}}, "strokeDash": {"field": "s", "type": "nominal", "scale": {"domain": ["GPS", "NeQuick"], "range": [[1, 0], [13, 5, 3, 5]]}, "legend": null}}},
{"title": "2011-10", "width": 226, "height": 197, "transform": [{"filter": "datum.m == '2011-10'"}], "mark": {"type": "line", "clip": true, "strokeWidth": 4}, "encoding": {"x": {"field": "h", "type": "quantitative", "scale": {"domain": [0, 24], "nice": false}, "axis": {"title": "TU", "values": [0, 4, 8, 12, 16, 20]}}, "y": {"field": "v", "type": "quantitative", "scale": {"domain": [0, 60], "nice": false}, "axis": {"title": "V-TEC (tecu)", "values": [0, 10, 20, 30, 40, 50, 60]}}, "color": {"field": "s", "type": "nominal", "scale": {"domain": ["GPS", "NeQuick"], "range": ["#ff0000", "#0000ff"]}, "legend": {"title": null, "orient": "none", "legendX": 782, "legendY": -84, "direction": "horizontal", "symbolType": "circle", "symbolSize": 0, "symbolOpacity": 0, "symbolStrokeWidth": 0, "labelOffset": -20, "padding": 0, "columnPadding": 0, "labelFont": "DejaVu Sans", "labelFontSize": 35, "labelFontWeight": "bold", "labelLimit": 400, "labelExpr": "datum.value == 'GPS' ? '- GPS' : '-. NeQuick'", "encode": {"labels": {"update": {"fill": {"signal": "datum.value == 'GPS' ? '#ff0000' : '#0000ff'"}}}}}}, "strokeDash": {"field": "s", "type": "nominal", "scale": {"domain": ["GPS", "NeQuick"], "range": [[1, 0], [13, 5, 3, 5]]}, "legend": null}}},
{"title": "2011-11", "width": 226, "height": 197, "transform": [{"filter": "datum.m == '2011-11'"}], "mark": {"type": "line", "clip": true, "strokeWidth": 4}, "encoding": {"x": {"field": "h", "type": "quantitative", "scale": {"domain": [0, 24], "nice": false}, "axis": {"title": "TU", "values": [0, 4, 8, 12, 16, 20]}}, "y": {"field": "v", "type": "quantitative", "scale": {"domain": [0, 60], "nice": false}, "axis": {"title": "V-TEC (tecu)", "values": [0, 10, 20, 30, 40, 50, 60]}}, "color": {"field": "s", "type": "nominal", "scale": {"domain": ["GPS", "NeQuick"], "range": ["#ff0000", "#0000ff"]}, "legend": {"title": null, "orient": "none", "legendX": 782, "legendY": -84, "direction": "horizontal", "symbolType": "circle", "symbolSize": 0, "symbolOpacity": 0, "symbolStrokeWidth": 0, "labelOffset": -20, "padding": 0, "columnPadding": 0, "labelFont": "DejaVu Sans", "labelFontSize": 35, "labelFontWeight": "bold", "labelLimit": 400, "labelExpr": "datum.value == 'GPS' ? '- GPS' : '-. NeQuick'", "encode": {"labels": {"update": {"fill": {"signal": "datum.value == 'GPS' ? '#ff0000' : '#0000ff'"}}}}}}, "strokeDash": {"field": "s", "type": "nominal", "scale": {"domain": ["GPS", "NeQuick"], "range": [[1, 0], [13, 5, 3, 5]]}, "legend": null}}},
{"title": "2011-12", "width": 226, "height": 197, "transform": [{"filter": "datum.m == '2011-12'"}], "mark": {"type": "line", "clip": true, "strokeWidth": 4}, "encoding": {"x": {"field": "h", "type": "quantitative", "scale": {"domain": [0, 24], "nice": false}, "axis": {"title": "TU", "values": [0, 4, 8, 12, 16, 20]}}, "y": {"field": "v", "type": "quantitative", "scale": {"domain": [0, 60], "nice": false}, "axis": {"title": "V-TEC (tecu)", "values": [0, 10, 20, 30, 40, 50, 60]}}, "color": {"field": "s", "type": "nominal", "scale": {"domain": ["GPS", "NeQuick"], "range": ["#ff0000", "#0000ff"]}, "legend": {"title": null, "orient": "none", "legendX": 782, "legendY": -84, "direction": "horizontal", "symbolType": "circle", "symbolSize": 0, "symbolOpacity": 0, "symbolStrokeWidth": 0, "labelOffset": -20, "padding": 0, "columnPadding": 0, "labelFont": "DejaVu Sans", "labelFontSize": 35, "labelFontWeight": "bold", "labelLimit": 400, "labelExpr": "datum.value == 'GPS' ? '- GPS' : '-. NeQuick'", "encode": {"labels": {"update": {"fill": {"signal": "datum.value == 'GPS' ? '#ff0000' : '#0000ff'"}}}}}}, "strokeDash": {"field": "s", "type": "nominal", "scale": {"domain": ["GPS", "NeQuick"], "range": [[1, 0], [13, 5, 3, 5]]}, "legend": null}}}
],
"config": {
"view": {"stroke": "#000000", "strokeWidth": 1},
"font": "DejaVu Sans",
"title": {"font": "DejaVu Sans", "fontSize": 27, "fontWeight": "bold", "color": "#000000", "offset": 3},
"axis": {"labelFont": "DejaVu Sans", "labelFontWeight": "bold", "labelColor": "#000000", "titleFont": "DejaVu Sans", "titleFontWeight": "bold", "titleColor": "#000000", "domain": false, "ticks": false, "grid": true, "gridColor": "#000000", "gridDash": [1, 3], "gridOpacity": 1, "gridWidth": 1, "labelOverlap": false, "labelFlush": false},
"axisX": {"labelExpr": "datum.value < 10 ? '0' + datum.value : '' + datum.value", "labelFontSize": 23, "labelPadding": 9, "titleFontSize": 25, "titlePadding": 4},
"axisY": {"labelExpr": "datum.value == 0 ? '00' : (datum.value % 20 == 0 ? datum.label : '')", "labelFontSize": 22, "labelPadding": 8, "titleFontSize": 24, "titlePadding": 14}
}
}
